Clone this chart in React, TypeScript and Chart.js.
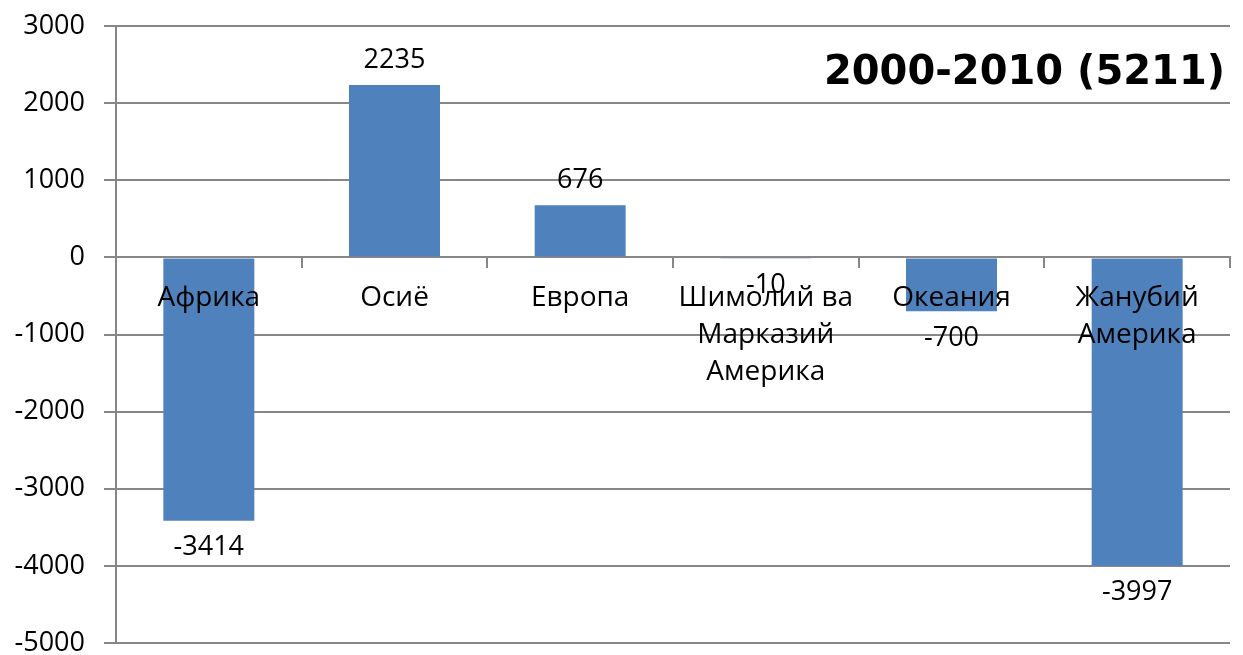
import React, { useEffect, useRef } from 'react';
import { Chart, registerables } from 'chart.js';

Chart.register(...registerables);

const categories: (string | string[])[] = [
  'Африка',
  'Осиё',
  'Европа',
  ['Шимолий ва', 'Марказий', 'Америка'],
  'Океания',
  ['Жанубий', 'Америка'],
];
const values = [-3414, 2235, 676, -10, -700, -3997];
const yMin = -5000;
const yMax = 3000;
const yStep = 1000;
const chartTitle = '2000-2010 (5211)';

export default function App() {
  const ref = useRef<HTMLCanvasElement>(null);

  useEffect(() => {
    if (!ref.current) return;
    const FONT = "'Open Sans', sans-serif";
    const gridColor = '#878787';

    const valueLabels = {
      id: 'valueLabels',
      afterDatasetsDraw(chart: any) {
        const ctx = chart.ctx;
        const meta = chart.getDatasetMeta(0);
        ctx.save();
        ctx.font = `27px ${FONT}`;
        ctx.fillStyle = '#000';
        ctx.textAlign = 'center';
        ctx.textBaseline = 'middle';
        meta.data.forEach((el: any, i: number) => {
          const v = values[i];
          const y = v >= 0 ? el.y - 25 : el.y + 27;
          ctx.fillText(String(v), el.x, y);
        });
        ctx.restore();
      },
    };

    const cornerTitle = {
      id: 'cornerTitle',
      afterDraw(chart: any) {
        const ctx = chart.ctx;
        ctx.save();
        ctx.font = `bold 40px 'DejaVu Sans', sans-serif`;
        ctx.fillStyle = '#000';
        ctx.textAlign = 'right';
        ctx.textBaseline = 'middle';
        ctx.fillText(chartTitle, chart.chartArea.right - 5, 74);
        ctx.restore();
      },
    };

    const chart = new Chart(ref.current, {
      type: 'bar',
      data: {
        labels: categories as any,
        datasets: [
          {
            data: values,
            backgroundColor: '#4F81BD',
            borderWidth: 0,
            categoryPercentage: 1,
            barPercentage: 0.49,
          },
        ],
      },
      options: {
        animation: false,
        responsive: true,
        maintainAspectRatio: false,
        layout: { padding: { left: 0, top: 26, right: 13, bottom: 12 } },
        plugins: {
          legend: { display: false },
          tooltip: { enabled: false },
          title: { display: false },
        },
        scales: {
          x: {
            position: { y: 0 } as any,
            grid: {
              display: true,
              offset: true,
              drawOnChartArea: false,
              drawTicks: true,
              tickLength: 10,
              color: gridColor,
              lineWidth: 2,
            },
            border: { display: true, color: gridColor, width: 2 },
            ticks: {
              z: 1,
              color: '#000',
              font: { family: FONT, size: 28, lineHeight: 1.32 },
              padding: 12,
              autoSkip: false,
              maxRotation: 0,
              minRotation: 0,
            },
            afterFit(scale: any) {
              scale.paddingLeft = 0;
              scale.paddingRight = 0;
            },
          },
          y: {
            min: yMin,
            max: yMax,
            grid: {
              color: gridColor,
              lineWidth: 2,
              drawTicks: true,
              tickLength: 12,
            },
            border: { display: true, color: gridColor, width: 2 },
            ticks: {
              stepSize: yStep,
              color: '#000',
              font: { family: FONT, size: 27 },
              padding: 19,
              callback: (v: any) => String(v),
            },
            afterFit(scale: any) {
              scale.width = 116;
              scale.paddingTop = 0;
              scale.paddingBottom = 0;
            },
          },
        },
      },
      plugins: [valueLabels, cornerTitle],
    });

    return () => chart.destroy();
  }, []);

  return (
    <div
      style={{
        position: 'fixed',
        left: 0,
        top: 0,
        width: 1243,
        height: 655,
        background: '#fff',
      }}
    >
      <canvas ref={ref} />
    </div>
  );
}
